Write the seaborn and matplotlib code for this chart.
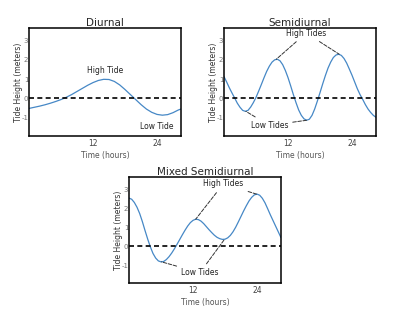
import matplotlib
matplotlib.use("Agg")
import matplotlib.pyplot as plt
import seaborn as sns
import pandas as pd

sns.set_style("white")
plt.rcParams['font.family'] = ['DejaVu Sans']

hours = [0, 1, 2, 3, 4, 5, 6, 7, 8, 9, 10, 11, 12, 13, 14, 15, 16, 17, 18, 19,
         20, 21, 22, 23, 24, 25, 26, 27, 28, 28.5]

diurnal = [-0.52, -0.46, -0.40, -0.33, -0.25, -0.16, -0.06, 0.06, 0.20, 0.36,
           0.52, 0.68, 0.82, 0.93, 0.99, 0.98, 0.88, 0.70, 0.46, 0.20,
           -0.06, -0.32, -0.55, -0.72, -0.83, -0.87, -0.84, -0.74, -0.60, -0.55]

half_hours = [0, 0.5, 1, 1.5, 2, 2.5, 3, 3.5, 4, 4.5, 5, 5.5, 6, 6.5, 7, 7.5,
              8, 8.5, 9, 9.5, 10, 10.5, 11, 11.5, 12, 12.5, 13, 13.5, 14, 14.5,
              15, 15.5, 16, 16.5, 17, 17.5, 18, 18.5, 19, 19.5, 20, 20.5, 21,
              21.5, 22, 22.5, 23, 23.5, 24, 24.5, 25, 25.5, 26, 26.5, 27, 27.5,
              28, 28.5]

semidiurnal = [1.13, 0.85, 0.55, 0.28, 0.02, -0.25, -0.46, -0.62, -0.67, -0.62,
               -0.45, -0.22, 0.05, 0.38, 0.72, 1.07, 1.40, 1.67, 1.88, 2.00,
               2.03, 1.95, 1.75, 1.45, 1.08, 0.65, 0.20, -0.22, -0.60, -0.88,
               -1.06, -1.13, -1.08, -0.88, -0.55, -0.14, 0.30, 0.75, 1.18, 1.57,
               1.88, 2.12, 2.25, 2.29, 2.23, 2.07, 1.83, 1.52, 1.20, 0.85,
               0.50, 0.20, -0.05, -0.32, -0.55, -0.73, -0.88, -0.98]

mixed = [2.53, 2.47, 2.30, 2.05, 1.72, 1.30, 0.83, 0.38, -0.03, -0.38,
         -0.62, -0.77, -0.82, -0.80, -0.70, -0.55, -0.36, -0.14, 0.10, 0.35,
         0.60, 0.84, 1.06, 1.24, 1.36, 1.42, 1.40, 1.32, 1.19, 1.03,
         0.87, 0.72, 0.58, 0.47, 0.40, 0.36, 0.37, 0.44, 0.57, 0.76,
         1.00, 1.28, 1.57, 1.86, 2.13, 2.38, 2.57, 2.70, 2.74, 2.68,
         2.52, 2.28, 1.97, 1.65, 1.35, 1.05, 0.75, 0.45]

titles = ["Diurnal", "Semidiurnal", "Mixed Semidiurnal"]
y_ticks = [-1, 0, 1, 2, 3]
x_ticks = [6, 12, 18, 24]
x_tick_labels = ["", "12", "", "24"]

# annotation anchors
diurnal_high = ("High Tide", (14.2, 1.45), [])
diurnal_low = ("Low Tide", (24.0, -1.44), [])
semi_high = ("High Tides", (15.4, 3.39), [(9.8, 2.03), (21.6, 2.29)])
semi_low = ("Low Tides", (8.5, -1.40), [(4.1, -0.67), (15.6, -1.13)])
mixed_high = ("High Tides", (17.7, 3.28), [(12.5, 1.42), (23.9, 2.74)])
mixed_low = ("Low Tides", (13.3, -1.39), [(6.1, -0.82), (17.9, 0.36)])

fig = plt.figure(figsize=(3.99, 3.22), dpi=100)
ax1 = fig.add_axes([0.0727, 0.5776, 0.381, 0.3354])
ax2 = fig.add_axes([0.5614, 0.5776, 0.381, 0.3354])
ax3 = fig.add_axes([0.3233, 0.1200, 0.381, 0.3310])

series = [(hours, diurnal), (half_hours, semidiurnal), (half_hours, mixed)]
notes = [[diurnal_high, diurnal_low], [semi_high, semi_low], [mixed_high, mixed_low]]

for ax, (xs, ys), title, nl in zip([ax1, ax2, ax3], series, titles, notes):
    df = pd.DataFrame({"Time": xs, "Height": ys})
    sns.lineplot(data=df, x="Time", y="Height", ax=ax, color="#4688c6", lw=0.9)
    ax.axhline(0, color="black", ls="--", lw=1.2, dashes=(3, 2))
    ax.set_xlim(0, 28.5)
    ax.set_ylim(-1.95, 3.65)
    ax.set_yticks(y_ticks)
    ax.set_yticklabels([str(v) for v in y_ticks])
    ax.set_xticks(x_ticks)
    ax.set_xticklabels(x_tick_labels)
    ax.tick_params(axis="y", direction="inout", length=5, width=0.8, pad=-2,
                   labelsize=5, labelcolor="#777777", color="#555555")
    ax.tick_params(axis="x", direction="in", length=4, width=0.8, pad=2,
                   labelsize=5.5, labelcolor="#444444", color="#555555")
    for s in ax.spines.values():
        s.set_color("black")
        s.set_linewidth(1.1)
    ax.set_title(title, fontsize=7.5, pad=1.5)
    ax.set_xlabel("Time (hours)", fontsize=5.5, color="#555555", labelpad=2)
    ax.set_ylabel("Tide Height (meters)", fontsize=5.5, color="#333333", labelpad=-1)
    for text, pos, targets in nl:
        if not targets:
            ax.text(pos[0], pos[1], text, fontsize=5.5, ha="center", va="center",
                    color="#222222")
        else:
            for i, t in enumerate(targets):
                ax.annotate(text, xy=t, xytext=pos, fontsize=5.5, ha="center",
                            va="center", color="#222222" if i == 0 else "none",
                            arrowprops=dict(arrowstyle="-", ls="--", lw=0.7,
                                            color="#333333", shrinkA=1, shrinkB=0))

fig.savefig("out.png", dpi=100)
